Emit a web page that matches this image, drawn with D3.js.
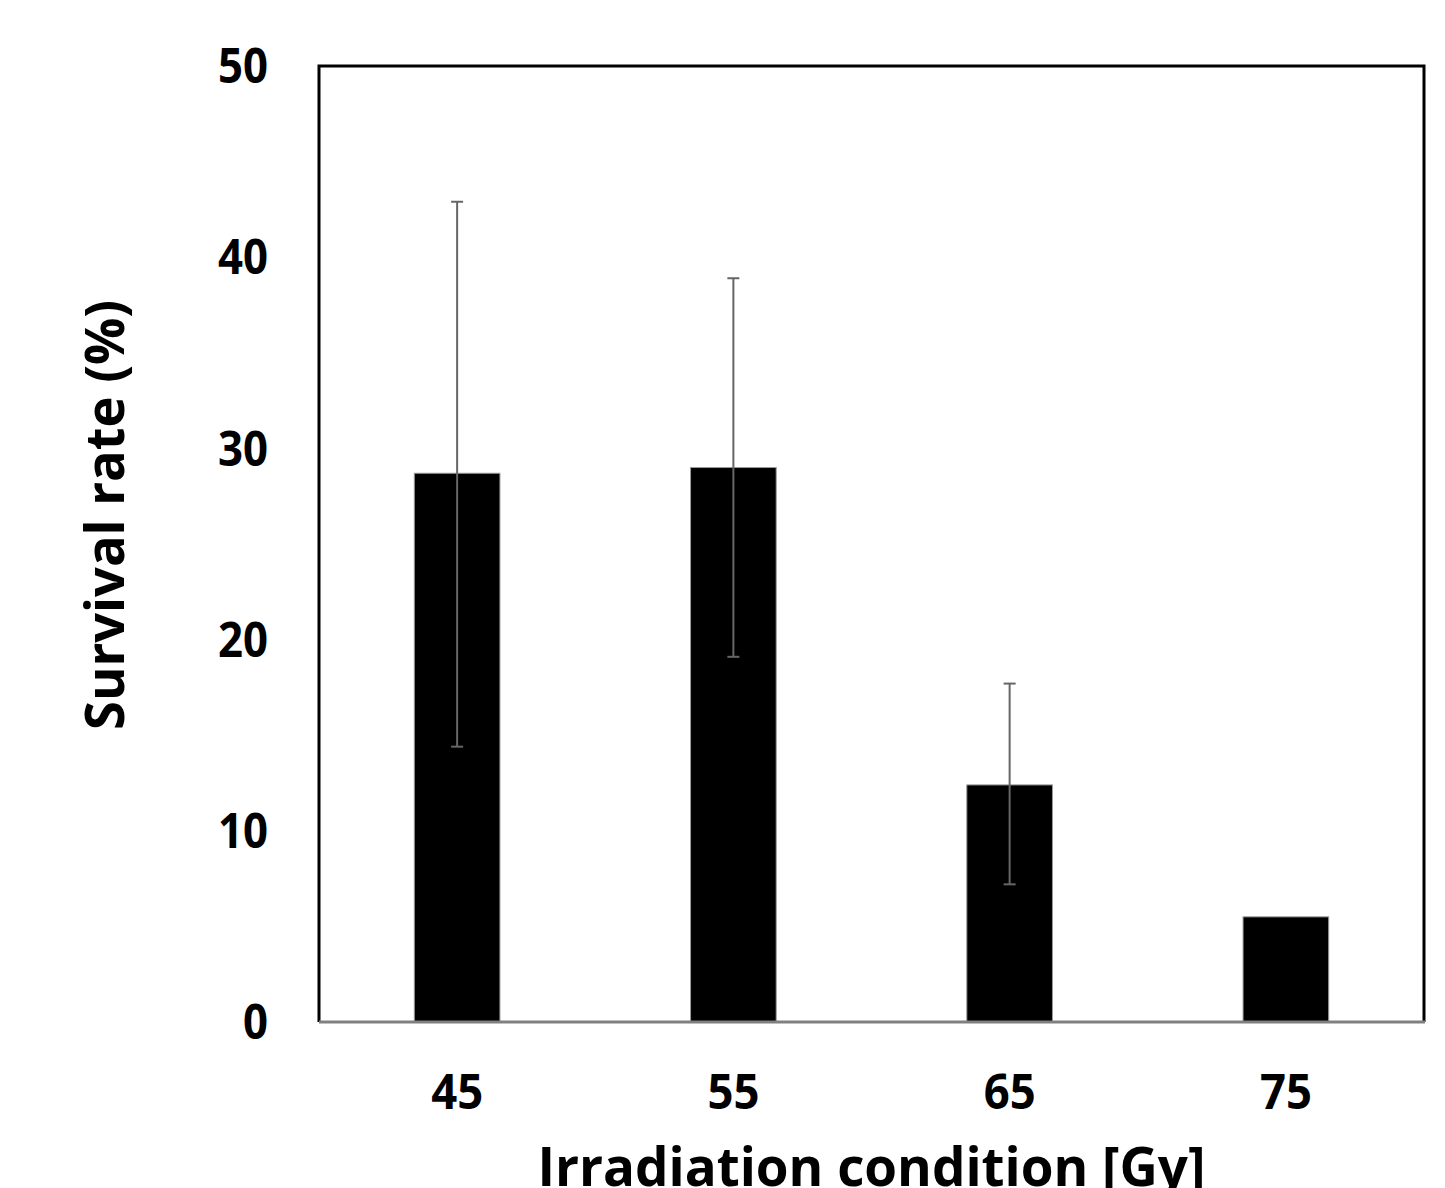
<!DOCTYPE html>
<html>
<head>
<meta charset="utf-8">
<script src="https://cdn.jsdelivr.net/npm/d3@7"></script>
<style>
  body { margin: 0; background: #fff; }
  text { font-family: "Open Sans", "Noto Sans", sans-serif; font-weight: bold; fill: #000; }
</style>
</head>
<body>
<svg width="1445" height="1188"></svg>
<script>
// data
var doses = ['45', '55', '65', '75'];
var survival = [28.7, 29.0, 12.4, 5.5];
var errUpper = [42.9, 38.9, 17.7, null];
var errLower = [14.4, 19.1, 7.2, null];
var yTicks = [0, 10, 20, 30, 40, 50];

var svg = d3.select('svg');
var plot = {l: 319, r: 1424, t: 66, b: 1022};

// scales
var x = d3.scaleBand().domain(doses)
    .range([plot.l, plot.r])
    .paddingInner(0.69).paddingOuter(0.345);
var y = d3.scaleLinear().domain([0, 50]).range([plot.b, plot.t]);

// frame (top, left, right)
svg.append('path')
    .attr('d', 'M' + plot.l + ',' + plot.b + 'V' + plot.t + 'H' + plot.r + 'V' + plot.b)
    .attr('fill', 'none')
    .attr('stroke', '#000')
    .attr('stroke-width', 3);

// bars
svg.selectAll('.bar')
    .data(doses)
    .enter().append('rect')
    .attr('class', 'bar')
    .attr('x', function(d) { return x(d); })
    .attr('width', x.bandwidth())
    .attr('y', function(d, i) { return y(survival[i]); })
    .attr('height', function(d, i) { return y(0) - y(survival[i]); })
    .attr('fill', '#000')
    .attr('stroke', '#999')
    .attr('stroke-width', 1);

// error bars
var errG = svg.append('g')
    .attr('stroke', '#666')
    .attr('stroke-width', 2);
doses.forEach(function(d, i) {
    if (errUpper[i] == null) return;
    var cx = x(d) + x.bandwidth() / 2;
    errG.append('line')
        .attr('x1', cx).attr('x2', cx)
        .attr('y1', y(errUpper[i])).attr('y2', y(errLower[i]));
    [errUpper[i], errLower[i]].forEach(function(v) {
        errG.append('line')
            .attr('x1', cx - 6).attr('x2', cx + 6)
            .attr('y1', y(v)).attr('y2', y(v));
    });
});

// bottom axis line
svg.append('line')
    .attr('x1', plot.l).attr('x2', plot.r + 1)
    .attr('y1', plot.b).attr('y2', plot.b)
    .attr('stroke', '#808080')
    .attr('stroke-width', 3);

// y tick labels
svg.selectAll('.ytick')
    .data(yTicks)
    .enter().append('text')
    .attr('class', 'ytick')
    .attr('x', 268)
    .attr('y', function(d) { return y(d); })
    .attr('dy', '0.36em')
    .attr('text-anchor', 'end')
    .style('font-size', '48px')
    .text(function(d) { return d; })
    .each(function(d) {
        var s = String(d);
        d3.select(this).attr('textLength', s.length * 25).attr('lengthAdjust', 'spacingAndGlyphs');
    });

// x tick labels
svg.selectAll('.xtick')
    .data(doses)
    .enter().append('text')
    .attr('class', 'xtick')
    .attr('x', function(d) { return x(d) + x.bandwidth() / 2; })
    .attr('y', 1109)
    .attr('text-anchor', 'middle')
    .attr('textLength', 52)
    .attr('lengthAdjust', 'spacingAndGlyphs')
    .style('font-size', '48px')
    .text(function(d) { return d; });

// axis titles
svg.append('text')
    .attr('x', (plot.l + plot.r) / 2)
    .attr('y', 1186)
    .attr('text-anchor', 'middle')
    .attr('textLength', 668)
    .attr('lengthAdjust', 'spacingAndGlyphs')
    .style('font-size', '54px')
    .text('Irradiation condition [Gy]');

svg.append('text')
    .attr('transform', 'translate(124,515)rotate(-90)')
    .attr('text-anchor', 'middle')
    .attr('textLength', 430)
    .attr('lengthAdjust', 'spacingAndGlyphs')
    .style('font-size', '54px')
    .text('Survival rate (%)');
</script>
</body>
</html>
